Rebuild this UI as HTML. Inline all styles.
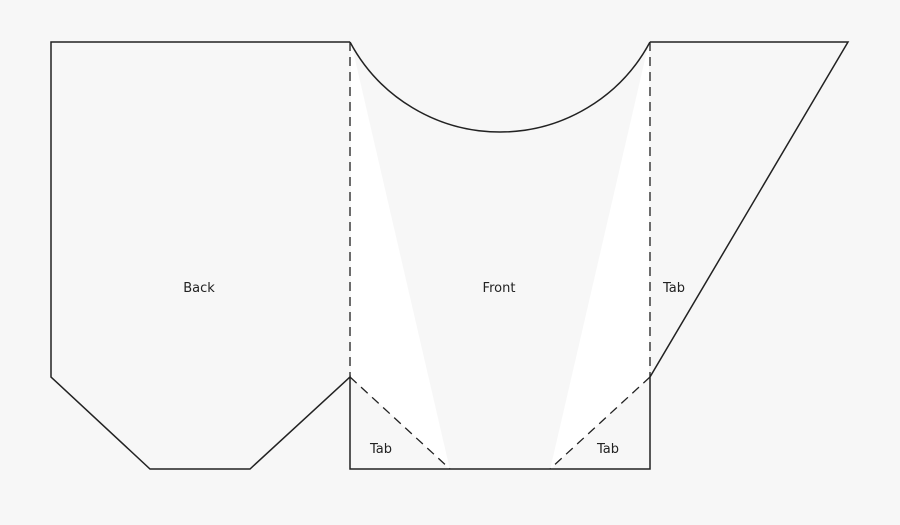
<!DOCTYPE html>
<html><head><meta charset="utf-8"><style>
html,body{margin:0;padding:0;background:#f7f7f7;}
svg{display:block;}
text{font-family:"DejaVu Sans","Liberation Sans",sans-serif;font-size:13px;fill:#222;}
</style></head><body>
<svg width="900" height="525" viewBox="0 0 900 525" xmlns="http://www.w3.org/2000/svg">
<rect width="900" height="525" fill="#f7f7f7"/>
<polygon points="351,42 351,377 450,470" fill="#fff"/>
<polygon points="649,42 649,377 550,470" fill="#fff"/>
<g fill="none" stroke="#222" stroke-width="1.5">
<polyline points="350,42 51,42 51,377 150,469 250,469 350,377 350,469 650,469 650,377 848,42 650,42"/>
<path d="M350,42 A170,170 0 0 0 650,42"/>
</g>
<g fill="none" stroke="#222" stroke-width="1.3" stroke-dasharray="9,6">
<line x1="350" y1="42" x2="350" y2="377"/>
<line x1="650" y1="42" x2="650" y2="377"/>
<line x1="350" y1="377" x2="450" y2="469"/>
<line x1="650" y1="377" x2="550" y2="469"/>
</g>
<text x="199" y="292" text-anchor="middle">Back</text>
<text x="499" y="292" text-anchor="middle">Front</text>
<text x="674" y="292" text-anchor="middle">Tab</text>
<text x="381" y="453" text-anchor="middle">Tab</text>
<text x="608" y="453" text-anchor="middle">Tab</text>
</svg>
</body></html>
